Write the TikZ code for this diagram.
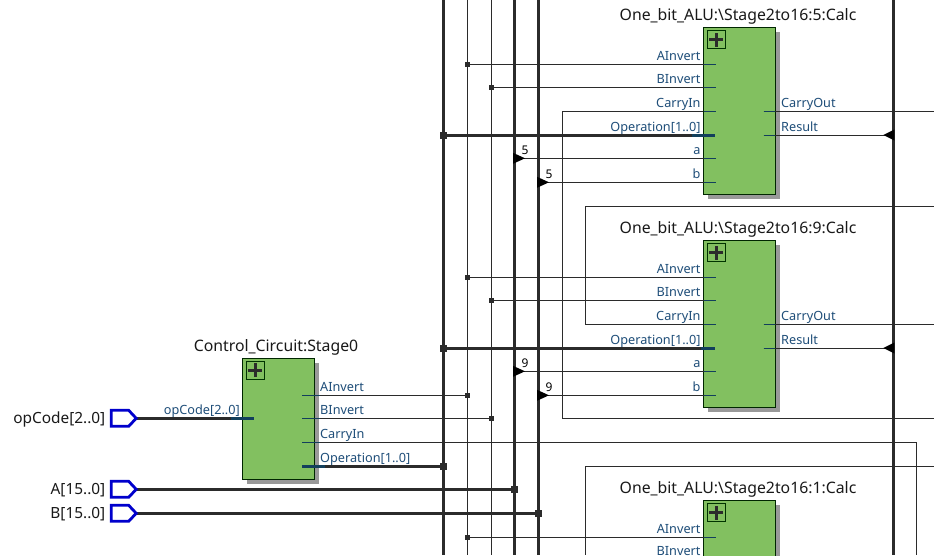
\documentclass[tikz,border=0pt]{standalone}
\usepackage{fontspec}
\setmainfont{Noto Sans}
\usetikzlibrary{shadows,calc}
\definecolor{wirec}{HTML}{2B2B2B}
\definecolor{stubc}{HTML}{123F5C}
\definecolor{labc}{HTML}{1F4E79}
\definecolor{boxg}{HTML}{82C060}
\definecolor{pinb}{HTML}{0000CC}
\tikzset{
  wire/.style={draw=wirec,line width=1pt},
  bus/.style={draw=wirec,line width=3pt},
  stub/.style={draw=stubc,line width=1pt},
  busstub/.style={draw=stubc,line width=3pt},
  junc/.style={fill=wirec,inner sep=0pt,minimum size=5.5pt,shape=rectangle},
  busjunc/.style={fill=wirec,inner sep=0pt,minimum size=7pt,shape=rectangle},
  block/.style={draw=black!85!green,line width=1pt,fill=boxg,inner sep=0pt,anchor=north west,minimum width=71.5pt,
    drop shadow={shadow xshift=4.5pt,shadow yshift=-4.5pt,fill=black!40,opacity=1}},
  plusbox/.style={draw=black!80!green,line width=1pt,fill=boxg,inner sep=0pt,minimum size=18pt,
    path picture={\draw[line width=2.6pt,wirec] ([xshift=-7pt]path picture bounding box.center) -- ([xshift=7pt]path picture bounding box.center);
      \draw[line width=2.6pt,wirec] ([yshift=-7pt]path picture bounding box.center) -- ([yshift=7pt]path picture bounding box.center);}},
  title/.style={font=\fontsize{15.8}{17}\selectfont,text=black!90,anchor=base,inner sep=0pt},
  plabr/.style={font=\fontsize{12.7}{14}\selectfont,text=labc,anchor=base east,inner sep=0pt},
  plabl/.style={font=\fontsize{12.7}{14}\selectfont,text=labc,anchor=base west,inner sep=0pt},
  pintext/.style={font=\fontsize{15.4}{17}\selectfont,text=black!90,anchor=base east,inner sep=0pt},
  count/.style={font=\fontsize{12}{13}\selectfont,text=black,anchor=base,inner sep=0pt},
  pinshape/.style={draw=pinb,line width=2.8pt,fill=white,line join=miter},
  headfill/.style={fill=black,draw=none},
}
% block: id, top y, bit number, height
\newcommand{\alubox}[4]{%
  \node[block,minimum height=#4pt] (alu#3) at (703,#2) {};
  \node[plusbox] (plus#3) at (716.2,{#2+12.7}) {};
  \node[title] (title#3) at (738,{#2-6.8}) {One\_bit\_ALU:\textbackslash Stage2to16:#3:Calc};
}
% full ports: id, top y, left extent of Op stub
\newcommand{\aluports}[3]{%
  \coordinate (p#1A) at (716,{#2+37.3});
  \coordinate (p#1B) at (716,{#2+60.3});
  \coordinate (p#1C) at (716,{#2+84.3});
  \coordinate (p#1O) at (715,{#2+108});
  \coordinate (p#1a) at (716,{#2+131.3});
  \coordinate (p#1b) at (716,{#2+155.3});
  \coordinate (q#1C) at (763.5,{#2+84.3});
  \coordinate (q#1R) at (763.5,{#2+108});
  \coordinate (e#1C) at (934,{#2+84.3});
  \node[junc] (j#1A) at (t2 |- p#1A) {};
  \node[junc] (j#1B) at (t3 |- p#1B) {};
  \node[busjunc] (j#1O) at (t1 |- p#1O) {};
  \draw[wire] (j#1A) -- (p#1A);
  \draw[wire] (j#1B) -- (p#1B);
  \draw[bus] (j#1O) -- (p#1O);
  \draw[wire] (t4 |- p#1a) -- (p#1a);
  \draw[wire] (t5 |- p#1b) -- (p#1b);
  \draw[wire] (q#1C) -- (e#1C);
  \draw[wire] (q#1R) -- (t6 |- q#1R);
  \draw[stub] (703.5,{#2+37.3}) -- (p#1A);
  \draw[stub] (703.5,{#2+60.3}) -- (p#1B);
  \draw[stub] (703.5,{#2+84.3}) -- (p#1C);
  \draw[busstub] (#3,{#2+108}) -- (p#1O);
  \draw[stub] (703.5,{#2+131.3}) -- (p#1a);
  \draw[stub] (703.5,{#2+155.3}) -- (p#1b);
  \draw[stub] (q#1C) -- ++(11,0);
  \draw[stub] (q#1R) -- ++(11,0);
  \node[plabr] (lA#1) at (700.7,{#2+33.3}) {AInvert};
  \node[plabr] (lB#1) at (700.7,{#2+56.3}) {BInvert};
  \node[plabr] (lC#1) at (700.7,{#2+80.3}) {CarryIn};
  \node[plabr] (lO#1) at (700.7,{#2+104.2}) {Operation[1..0]};
  \node[plabr] (la#1) at (700.7,{#2+127.3}) {a};
  \node[plabr] (lb#1) at (700.7,{#2+151.3}) {b};
  \node[plabl] (lCO#1) at (781,{#2+80.3}) {CarryOut};
  \node[plabl] (lR#1) at (781,{#2+104.2}) {Result};
  \fill[headfill] ($(t4 |- p#1a)+(-1.5,-5.5)$) -- ++(12,5.5) -- ++(-12,5.5) -- cycle;
  \fill[headfill] ($(t5 |- p#1b)+(-1.5,-5.5)$) -- ++(12,5.5) -- ++(-12,5.5) -- cycle;
  \fill[headfill] ($(t6 |- q#1R)+(1,-5.5)$) -- ++(-11,5.5) -- ++(11,5.5) -- cycle;
  \node[count] (cnta#1) at ($(t4 |- p#1a)+(10.5,-3.8)$) {#1};
  \node[count] (cntb#1) at ($(t5 |- p#1b)+(10.5,-3.8)$) {#1};
}
\begin{document}
\begin{tikzpicture}[x=1pt,y=-1pt]
\useasboundingbox (0,0) rectangle (934,555);
\clip (0,0) rectangle (934,555);
\fill[white] (0,0) rectangle (934,555);
% vertical trunks
\foreach \n/\x in {1/443.5,2/467.5,3/491.5,4/514.5,5/538.5,6/893.3}{
  \coordinate (t\n) at (\x,0);
  \coordinate (b\n) at (\x,555);
}
\draw[bus] (t1) -- (b1);
\draw[wire] (t2) -- (b2);
\draw[wire] (t3) -- (b3);
\draw[bus] (t4) -- (b4);
\draw[bus] (t5) -- (b5);
\draw[bus] (t6) -- (b6);
% routing of carries
\coordinate (c1a) at (562.5,111.3);
\coordinate (c1b) at (562.5,418.3);
\coordinate (c1c) at (934,418.3);
\coordinate (c2a) at (585.3,324.3);
\coordinate (c2b) at (585.3,206);
\coordinate (c2c) at (934,206);
\coordinate (c3a) at (585.3,555);
\coordinate (c3b) at (585.3,466.3);
\coordinate (c3c) at (934,466.3);
\coordinate (c4a) at (916.3,442.3);
\coordinate (c4b) at (916.3,555);
\draw[wire] (c1c) -- (c1b) -- (c1a) -- (716,111.3);
\draw[wire] (c2c) -- (c2b) -- (c2a) -- (716,324.3);
\draw[wire] (c3c) -- (c3b) -- (c3a);
% boxes
\alubox{5}{27}{5}{167}
\alubox{9}{240}{9}{167}
\alubox{1}{500}{1}{167}
\aluports{5}{27}{692}
\aluports{9}{240}{701}
% third block ports
\coordinate (p1A) at (716,537.3);
\node[junc] (j1A) at (t2 |- p1A) {};
\draw[wire] (j1A) -- (p1A);
\draw[stub] (703.5,537.3) -- (p1A);
\node[plabr] (lA1) at (700.7,533.3) {AInvert};
\node[plabr] (lB1) at (700.7,555.5) {BInvert};
% control block
\node[block,minimum height=121pt] (ctrl) at (242,357.5) {};
\node[plusbox] (plusc) at (255.2,370.2) {};
\node[title] (ctitle) at (276,351.4) {Control\_Circuit:Stage0};
\coordinate (cA) at (302,395.3);
\coordinate (cB) at (302,418.3);
\coordinate (cC) at (302,442.3);
\coordinate (cO) at (302,466.3);
\node[junc] (jcA) at (t2 |- cA) {};
\node[junc] (jcB) at (t3 |- cB) {};
\node[busjunc] (jcO) at (t1 |- cO) {};
\draw[wire] (cA) -- (jcA);
\draw[wire] (cB) -- (jcB);
\draw[wire] (cC) -- (c4a) -- (c4b);
\draw[bus] (cO) -- (jcO);
\draw[stub] (cA) -- (320,395.3);
\draw[stub] (cB) -- (320,418.3);
\draw[stub] (cC) -- (320,442.3);
\draw[busstub] (cO) -- (325,466.3);
\node[plabl] (lcA) at (320,391.2) {AInvert};
\node[plabl] (lcB) at (320,414.2) {BInvert};
\node[plabl] (lcC) at (320,438.2) {CarryIn};
\node[plabl] (lcO) at (320,462) {Operation[1..0]};
% input pins
\coordinate (opt) at (136.7,418.3);
\coordinate (atip) at (136.7,489.3);
\coordinate (btip) at (136.7,513.3);
\coordinate (opin) at (254,418.3);
\node[busjunc] (jA) at (t4 |- atip) {};
\node[busjunc] (jB) at (t5 |- btip) {};
\draw[bus] (opt) -- (opin);
\draw[busstub] (231,418.3) -- (opin);
\draw[bus] (atip) -- (jA);
\draw[bus] (btip) -- (jB);
\foreach \t in {opt,atip,btip}{
  \draw[pinshape] ($(\t)+(-25.5,-8)$) -- ++(17.5,0) -- ($(\t)+(-0.5,0)$) -- ($(\t)+(-8,8)$) -- ++(-17.5,0) -- cycle;
}
\node[pintext] (nop) at (105.5,423) {opCode[2..0]};
\node[pintext] (na) at (105.5,494) {A[15..0]};
\node[pintext] (nb) at (105.5,518) {B[15..0]};
\node[plabr] (lop) at (240,414.2) {opCode[2..0]};
\end{tikzpicture}
\end{document}
